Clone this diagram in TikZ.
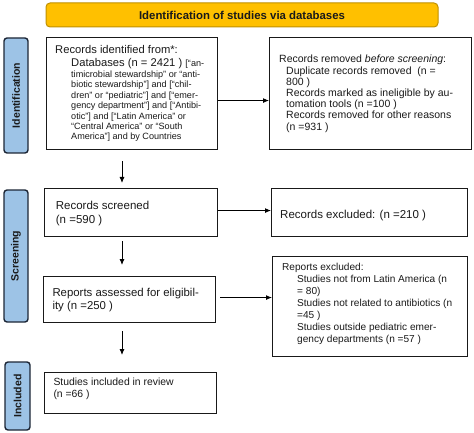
\documentclass[tikz,border=0pt]{standalone}
\usepackage{fontspec}
\setmainfont{Liberation Sans}
\usetikzlibrary{arrows.meta,calc}
\definecolor{hdrfill}{HTML}{FFC000}
\definecolor{hdrdraw}{HTML}{BF9000}
\definecolor{sidefill}{HTML}{9DC3E6}
\definecolor{sidedraw}{HTML}{1C2636}
\definecolor{txt}{HTML}{1A1A1A}
\tikzset{
  box/.style={draw=black!90, line width=1.1pt, fill=white, anchor=north west, inner sep=0pt},
  side/.style={draw=sidedraw, line width=1.4pt, fill=sidefill, rounded corners=3pt, rotate=90,
     inner sep=0pt, font=\bfseries\fontsize{10.5}{12}\selectfont, text=txt},
  hdr/.style={draw=hdrdraw, line width=1pt, fill=hdrfill, rounded corners=4pt, inner sep=0pt,
     font=\bfseries\fontsize{11.4}{13}\selectfont, text=txt},
  tx/.style={anchor=base west, inner sep=0pt, align=left, text=txt},
  arr/.style={-{Latex[length=6pt,width=5pt]}, line width=0.9pt, black}
}
\begin{document}
\begin{tikzpicture}[x=1pt,y=-1pt]
\useasboundingbox (0,0) rectangle (474,433);
% header
\node[hdr, minimum width=392, minimum height=24] (hd) at (242,15) {Identification of studies via databases};
% side labels
\node[side, minimum width=115, minimum height=24] (sidA) at (16,95.5) {Identification};
\node[side, minimum width=132, minimum height=24] (sidB) at (16,256) {Screening};
\node[side, minimum width=68, minimum height=25] (sidC) at (17.5,396) {Included};
% boxes
\node[box, minimum width=171, minimum height=112] (b1) at (46,37) {};
\node[box, minimum width=202, minimum height=112] (b2) at (269,37) {};
\node[box, minimum width=173, minimum height=48] (b3) at (44,188) {};
\node[box, minimum width=196, minimum height=48] (b4) at (271,188) {};
\node[box, minimum width=172, minimum height=46] (b5) at (43,276) {};
\node[box, minimum width=195, minimum height=100] (b6) at (272,256) {};
\node[box, minimum width=172, minimum height=41] (b7) at (44,372) {};
% texts (base = baseline of the last line)
\node[tx, font=\fontsize{11.2}{12}\selectfont] (t1a) at (55,54) {Records identified from*:};
\node[tx, font=\fontsize{11.2}{12}\selectfont] (t1b) at (71,66.7) {Databases (n = 2421 ) {\fontsize{9.1}{10}\selectfont [“an-}};
\node[tx, font=\fontsize{9.1}{10.45}\selectfont] (t1c) at (71,140) {timicrobial stewardship” or “anti-\\biotic stewardship”] and [“chil-\\dren” or “pediatric”] and [“emer-\\gency department”] and [“Antibi-\\otic”] and [“Latin America” or\\“Central America” or “South\\America”] and by Countries};
\node[tx, font=\fontsize{10.5}{11.2}\selectfont] (t2) at (279,130.2) {Records removed \textit{before screening}:\\
\hspace*{7pt}Duplicate records removed~ (n =\\
\hspace*{7pt}800 )\\
\hspace*{7pt}Records marked as ineligible by au-\\
\hspace*{7pt}tomation tools (n =100 )\\
\hspace*{7pt}Records removed for other reasons\\
\hspace*{7pt}(n =931 )};
\node[tx, font=\fontsize{11.5}{13.3}\selectfont] (t3) at (55.7,223) {Records screened\\(n =590 )};
\node[tx, font=\fontsize{11.5}{13.3}\selectfont] (t4) at (280,218) {Records excluded: (n =210 )};
\node[tx, font=\fontsize{11.4}{12.6}\selectfont] (t5) at (52.3,309.3) {Reports assessed for eligibil-\\ity (n =250 )};
\node[tx, font=\fontsize{10.1}{12.05}\selectfont] (t6) at (282,342.8) {Reports excluded:\\
\hspace*{15pt}Studies not from Latin America (n\\
\hspace*{15pt}= 80)\\
\hspace*{15pt}Studies not related to antibiotics (n\\
\hspace*{15pt}=45 )\\
\hspace*{15pt}Studies outside pediatric emer-\\
\hspace*{15pt}gency departments (n =57 )};
\node[tx, font=\fontsize{10.4}{12}\selectfont] (t7) at (53.3,397.3) {Studies included in review\\(n =66 )};
% arrows
\coordinate (ax) at (122,0);
\draw[arr, shorten <=11pt, shorten >=5pt] (ax |- b1.south) -- (ax |- b3.north);
\draw[arr, shorten <=4pt, shorten >=11pt] (ax |- b3.south) -- (ax |- b5.north);
\draw[arr, shorten <=8pt, shorten >=17pt] (ax |- b5.south) -- (ax |- b7.north);
\draw[arr] ([yshift=-7pt]b1.east) -- ([yshift=-7pt]b1.east -| b2.west);
\draw[arr] ([yshift=2pt]b3.east) -- ([yshift=2pt]b3.east -| b4.west);
\draw[arr, shorten <=4pt] ([yshift=2pt]b5.east) -- ([yshift=2pt]b5.east -| b6.west);
\end{tikzpicture}
\end{document}
